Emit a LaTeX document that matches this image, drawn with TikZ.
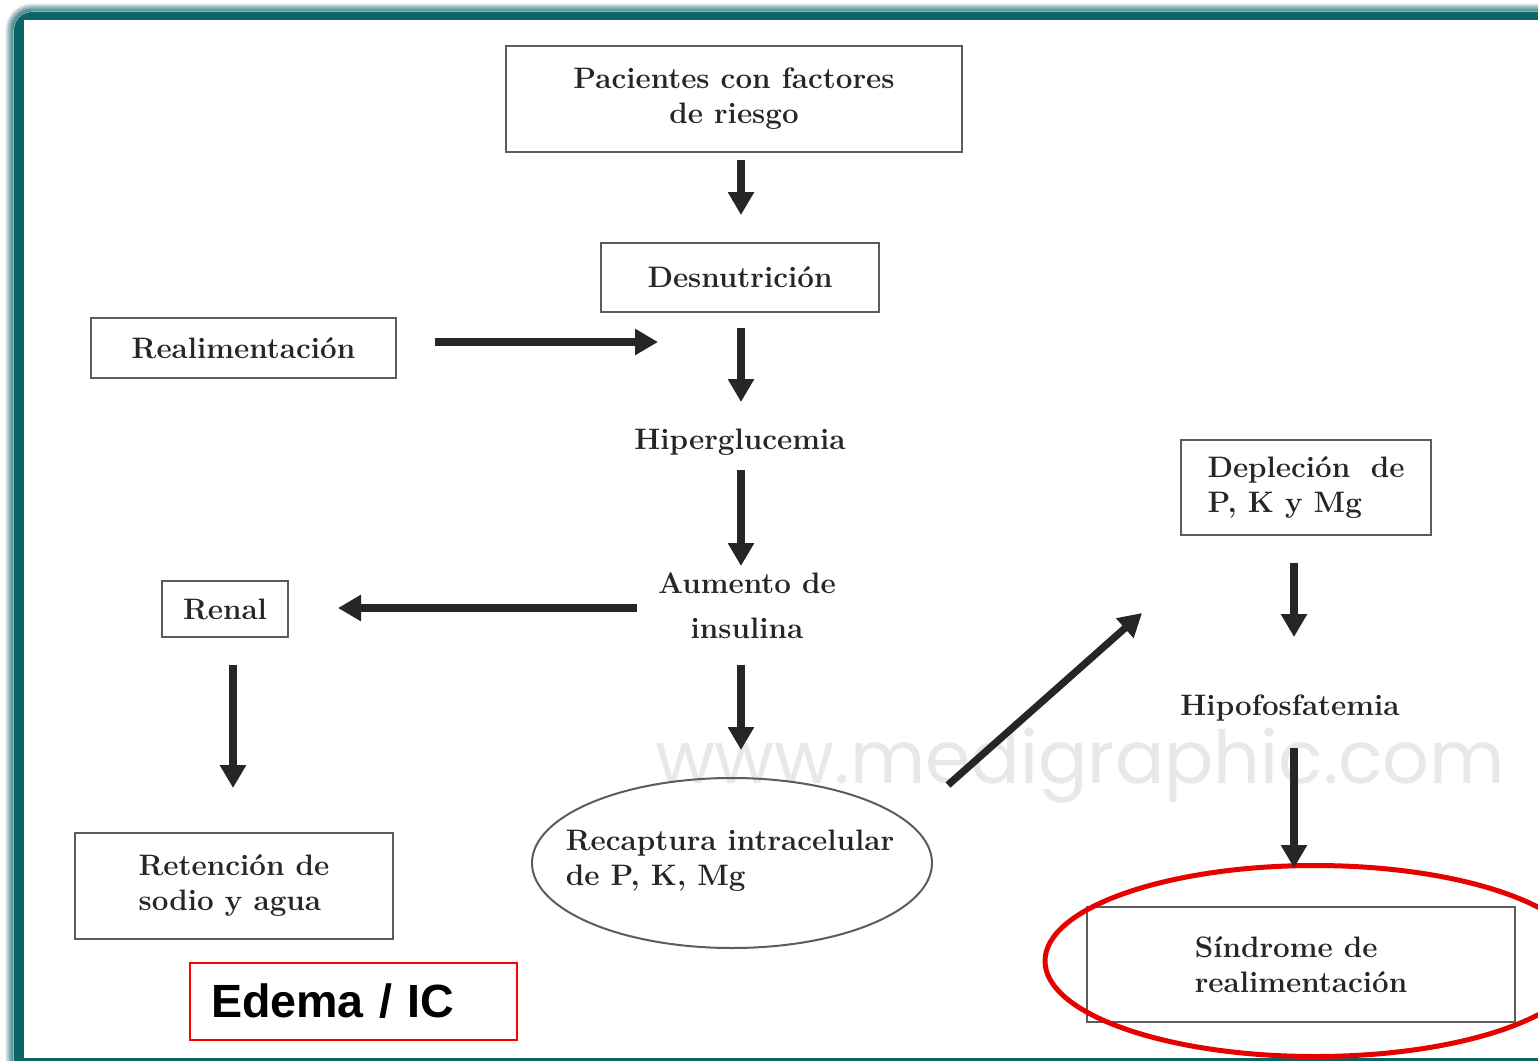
\documentclass[tikz,border=0pt]{standalone}
\usepackage{fontspec}
\newfontfamily\labelsans{Liberation Sans}
\newfontfamily\markfont{Poppins}
\usetikzlibrary{arrows.meta,shapes.geometric,calc}
\definecolor{frameteal}{HTML}{0B6466}
\definecolor{inkgray}{HTML}{262626}
\definecolor{boxgray}{HTML}{5C5C5C}
\definecolor{markred}{HTML}{E60000}

\begin{document}
\begin{tikzpicture}[x=0.5pt,y=-0.5pt,
  every node/.style={inner sep=0pt, outer sep=0pt},
  txt/.style={font=\fontsize{14.8}{17.5}\selectfont\bfseries, text=inkgray, align=center},
  ltxt/.style={txt, align=left},
  box/.style={draw=boxgray, line width=1pt, rectangle},
  arr/.style={draw=inkgray, line width=3.6pt, -{Triangle[length=11.5pt,width=12.5pt]}},
]
\useasboundingbox (0,0) rectangle (1538,1061);
\fill[white] (0,0) rectangle (1538,1061);

% teal frame with a soft outer edge
\foreach \i in {1,...,8}{
  \draw[frameteal, line width=0.6pt, opacity={0.8*(1-\i/9)}, rounded corners={9pt+0.5*\i pt}]
    (14-\i,12-\i) rectangle (1600+\i,1100+\i);
}
\fill[frameteal, rounded corners=9pt] (14,12) rectangle (1600,1100);
\fill[white] (24,20) rectangle (1600,1058);

% watermark
\node[text=black!9, anchor=base west] (mark) at (655,783)
  {\resizebox{425pt}{!}{\markfont\fontsize{41}{41}\selectfont www.medigraphic.com}};

% boxes and labels
\node[box, txt, minimum width=228pt, minimum height=53pt] (risk) at (734,99) {Pacientes con factores\\de riesgo};
\node[box, txt, minimum width=139pt, minimum height=34.5pt] (desn) at (740,277.5) {Desnutrición};
\node[box, txt, minimum width=152.5pt, minimum height=30pt] (realim) at (243.5,348) {Realimentación};
\node[txt] (hiper) at (740,442) {Hiperglucemia};
\node[txt] (aumento) at (747,606) {Aumento de\\[5pt]insulina};
\node[box, txt, minimum width=63pt, minimum height=28pt] (renal) at (225,609) {Renal};
\node[box, ltxt, minimum width=159pt, minimum height=53pt] (reten) at (234,886) {Retención de\\sodio y agua};
\node[draw=boxgray, line width=1pt, ellipse, minimum width=200pt, minimum height=85pt] (recap) at (732,863) {};
\node[ltxt] (recaptxt) at (730,861) {Recaptura intracelular\\de P, K, Mg};
\node[box, ltxt, minimum width=125pt, minimum height=47.5pt] (deplec) at (1306,487.5) {\makebox[98.5pt][s]{Depleción de}\\P, K y Mg};
\node[txt] (hipofos) at (1290,708) {Hipofosfatemia};
\node[box, ltxt, minimum width=214pt, minimum height=57.5pt] (sind) at (1301,964.5) {Síndrome de\\realimentación};
\node[draw=red, line width=1pt, minimum width=163.5pt, minimum height=38.5pt, inner xsep=10.5pt, text width=142.5pt, align=left,
      font=\labelsans\bfseries\fontsize{23.3}{28}\selectfont] (edema) at (353.5,1001.5) {Edema / IC};

% red highlight round the final box
\draw[markred, line width=2.5pt] (1315,961) ellipse [x radius=270, y radius=95.5];

% connectors
\coordinate (feed) at (658,342);
\draw[arr] ($(risk.south)+(7,8)$) -- ($(desn.north)+(1,-28)$);
\draw[arr] ($(realim.east)+(39,-6)$) -- (feed);
\draw[arr] ($(desn.south)+(1,16)$) -- ($(hiper.center)+(1,-40)$);
\draw[arr] ($(hiper.center)+(1,28)$) -- ($(aumento.center)+(-6,-40)$);
\draw[arr] ($(aumento.center)+(-110,2)$) -- ($(renal.east)+(50,-1)$);
\draw[arr] ($(renal.south)+(8,28)$) -- ($(reten.north)+(-1,-45)$);
\draw[arr] ($(aumento.center)+(-6,59)$) -- ($(recap.north)+(9,-28)$);
\draw[arr] ($(recap.center)+(216,-78)$) -- ($(deplec.south west)+(-39,78)$);
\draw[arr] ($(deplec.south)+(-12,28)$) -- ($(hipofos.center)+(4,-71)$);
\draw[arr] ($(hipofos.center)+(4,40)$) -- ($(sind.north)+(-7,-39)$);
\end{tikzpicture}
\end{document}
